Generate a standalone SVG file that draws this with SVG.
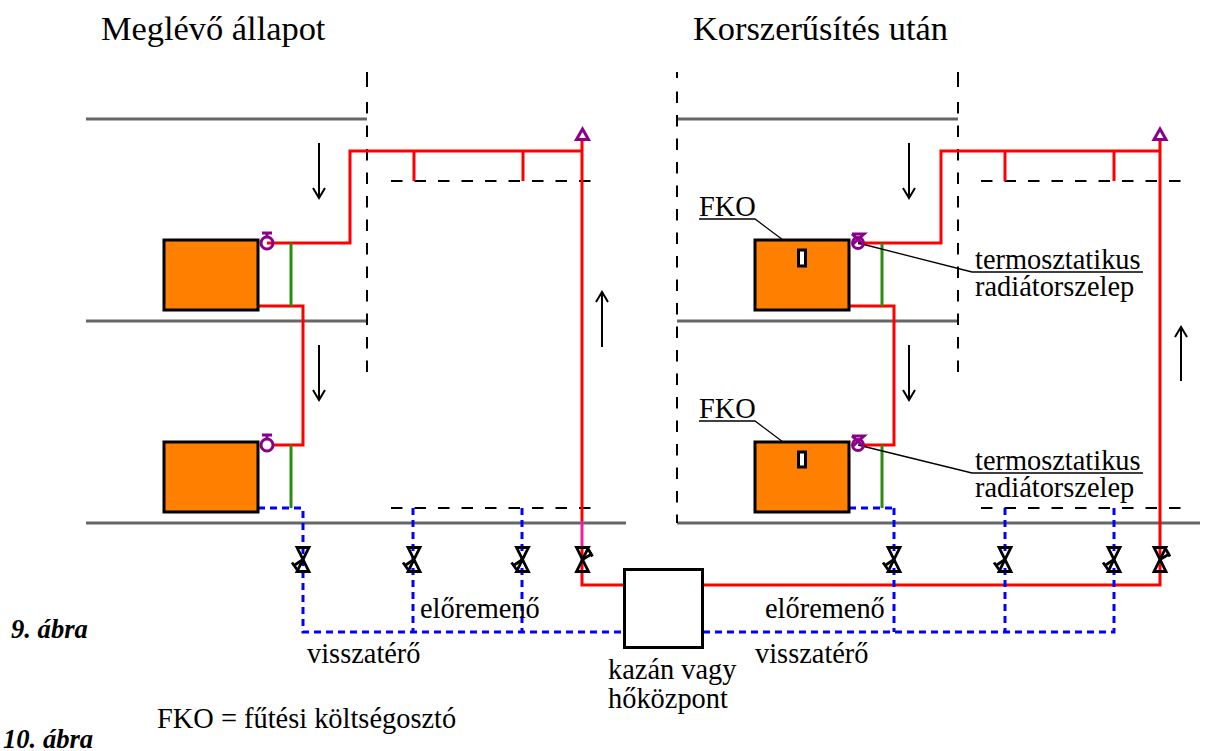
<svg xmlns="http://www.w3.org/2000/svg" width="1207" height="751" viewBox="0 0 1207 751">
<style>
text{font-family:"Liberation Serif","Times New Roman",serif;fill:#000}
.t1{font-size:34.4px}.t2{font-size:28.4px}.it{font-size:26.6px;font-weight:bold;font-style:italic}
.wall{stroke:#666;stroke-width:3;fill:none}
.dash{stroke:#000;stroke-width:2;stroke-dasharray:11.5 12;fill:none}
.solid{stroke:#000;stroke-width:2;fill:none}
.red{stroke:#f00;stroke-width:3;fill:none}
.grn{stroke:#2e8b10;stroke-width:3;fill:none}
.blue{stroke:#00f;stroke-width:3;stroke-dasharray:7 5;fill:none}
.pink{stroke:#f0209a;stroke-width:3;fill:none}
.rad{fill:#ff8000;stroke:#000;stroke-width:3}
.fko{fill:#fff;stroke:#000;stroke-width:3}
.pur{stroke:#8b008b;stroke-width:3;fill:none}
.arr{stroke:#000;stroke-width:2;fill:none}
.lead{stroke:#000;stroke-width:1.3;fill:none}
.v{stroke:#000;stroke-width:2.8;fill:none}
</style>
<defs>
<g id="valveL"><path class="v" d="M-6-12H6L-6 12H6Z"/><path class="v" d="M0 0L-9 6M-11 3L-6 10"/></g>
<g id="valveR"><path class="v" d="M-6-12H6L-6 12H6Z"/><path class="v" d="M0 0L10-6M6-10L10-3"/></g>
<g id="valveO"><circle class="pur" cx="0" cy="0" r="6"/><path class="pur" d="M0-6V-10M-5-10H5"/></g>
<g id="valveT"><circle class="pur" cx="0" cy="0" r="5.5"/><path class="pur" d="M-6-9H6L-5 1M5 1L-6-9" stroke-width="2.5"/></g>
</defs>
<g id="walls">
<path class="wall" d="M86 119H367M86 321H367M86 523H626M677 119H958M677 321H958M677 523H1200"/>
</g>
<g id="dashes">
<path class="solid" d="M367 72V87M958 72V87M677 72V78"/>
<path class="dash" d="M367 102V376M958 102V376M677 91.5V523M391 181H592M391 508H592M981 181H1184M981 508H1184"/>
</g>
<g id="connectors">
<path class="red" d="M267 243H350V151H582M414 151V181M523 151V181M582 140V521M258 306H303V445H272"/>
<path class="pink" d="M582 521V548"/>
<path class="red" d="M582 548V585H624M703 585H1160V140M858 243H941V151H1160M1005 151V181M1114 151V181M849 306H894V445H862"/>
<path class="grn" d="M291 243V306M291 445V508M882 243V306M882 445V508"/>
<path class="blue" d="M258 508H303V632H624M413 508V632M522 508V632M703 632H1114V508M1005 508V632M894 508V632M849 508H894"/>
<path class="arr" d="M319 143V198M313 188L319 198L325 188M319 345V400M313 390L319 400L325 390M602 347V292M596 302L602 292L608 302M909 143V198M903 188L909 198L915 188M909 345V400M903 390L909 400L915 390M1181 381V327M1175 337L1181 327L1187 337"/>
<path class="lead" d="M699 219H755L799 252M699 421H755L799 454M858 243L972 272H1143M858 445L972 473H1143"/>
</g>
<g id="valves">
<use href="#valveL" x="303" y="559.5"/><use href="#valveL" x="414" y="559.5"/><use href="#valveL" x="522.5" y="559.5"/><use href="#valveR" x="582.5" y="559.5"/>
<use href="#valveL" x="894" y="559.5"/><use href="#valveL" x="1005" y="559.5"/><use href="#valveL" x="1114" y="559.5"/><use href="#valveR" x="1160" y="559.5"/>
<use href="#valveO" x="267" y="243"/><use href="#valveO" x="267" y="445"/>
<use href="#valveT" x="858" y="243"/><use href="#valveT" x="858" y="445"/>
<path class="pur" d="M582.5 129L588.5 139.5H576.5Z"/><path class="pur" d="M1160 129L1166 139.5H1154Z"/>
</g>
<g id="rad1"><rect class="rad" x="164" y="240" width="94" height="70"/></g>
<g id="rad2"><rect class="rad" x="164" y="442" width="94" height="70"/></g>
<g id="rad3"><rect class="rad" x="755" y="240" width="94" height="70"/><rect class="fko" x="798.5" y="250" width="7" height="16"/></g>
<g id="rad4"><rect class="rad" x="755" y="442" width="94" height="70"/><rect class="fko" x="798.5" y="452" width="7" height="15"/></g>
<g id="boiler"><rect x="624.5" y="569.5" width="78" height="78" fill="#fff" stroke="#000" stroke-width="3"/></g>
<g id="labels">
<text class="t1" x="101" y="39.5">Meglévő állapot</text>
<text class="t1" x="693" y="39.5">Korszerűsítés után</text>
<text class="t2" x="699" y="216">FKO</text>
<text class="t2" x="699" y="418">FKO</text>
<text class="t2" x="975" y="269">termosztatikus</text>
<text class="t2" x="975" y="296">radiátorszelep</text>
<text class="t2" x="975" y="470">termosztatikus</text>
<text class="t2" x="975" y="497">radiátorszelep</text>
<text class="t2" x="420" y="618">előremenő</text>
<text class="t2" x="765" y="618">előremenő</text>
<text class="t2" x="307" y="663">visszatérő</text>
<text class="t2" x="755" y="663">visszatérő</text>
<text class="t2" x="608" y="679">kazán vagy</text>
<text class="t2" x="608" y="708">hőközpont</text>
<text class="t2" x="157" y="728">FKO = fűtési költségosztó</text>
<text class="it" x="11" y="638">9. ábra</text>
<text class="it" x="3" y="748">10. ábra</text>
</g>
</svg>
